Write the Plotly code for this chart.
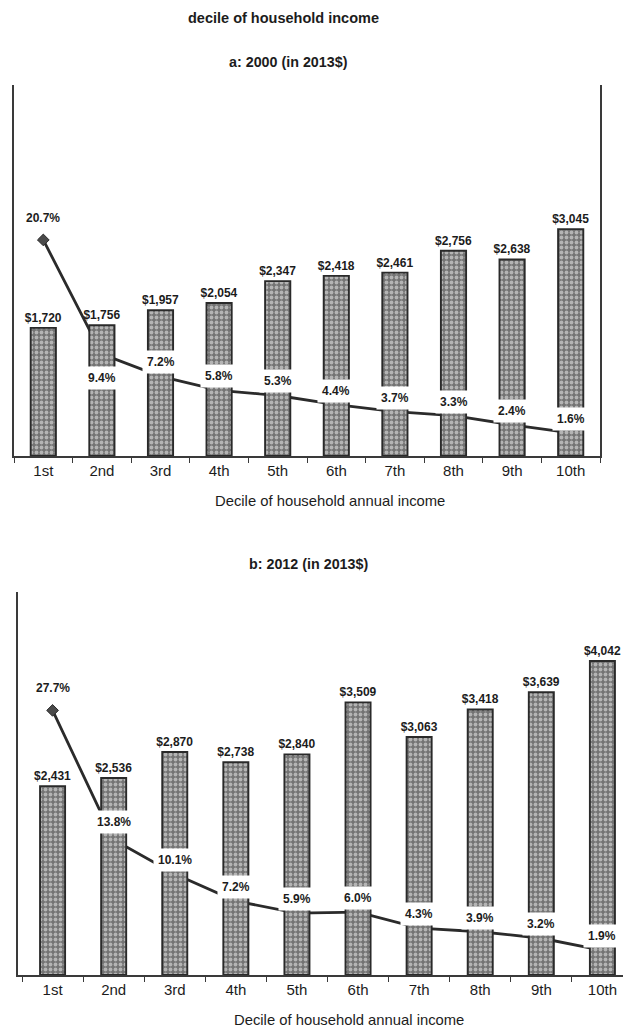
import plotly.graph_objects as go

# Deciles of household annual income
deciles = ["1st", "2nd", "3rd", "4th", "5th", "6th", "7th", "8th", "9th", "10th"]

# Panel a: 2000 (in 2013$)
spend_2000 = [1720, 1756, 1957, 2054, 2347, 2418, 2461, 2756, 2638, 3045]
share_2000 = [20.7, 9.4, 7.2, 5.8, 5.3, 4.4, 3.7, 3.3, 2.4, 1.6]

# Panel b: 2012 (in 2013$)
spend_2012 = [2431, 2536, 2870, 2738, 2840, 3509, 3063, 3418, 3639, 4042]
share_2012 = [27.7, 13.8, 10.1, 7.2, 5.9, 6.0, 4.3, 3.9, 3.2, 1.9]

W, H = 623, 1030
FONT = "Liberation Sans, Arial, sans-serif"
INK = "#1c1c1c"
AXIS = "#3a3a3a"

bar_marker = dict(
    color="#8a8a8a",
    line=dict(color="#2a2a2a", width=1.9),
    pattern=dict(shape=".", fgcolor="#b4b4b4", bgcolor="#737373",
                 size=5, solidity=0.45, fillmode="replace"),
)


def px_x(p):
    return p / W


def px_y(p):
    return 1 - p / H


fig = go.Figure()

# percentage line sits on the base axis so the bars cover it
for xa, ya, shares in (("x", "y", share_2000), ("x2", "y3", share_2012)):
    fig.add_trace(go.Scatter(
        x=deciles, y=shares, xaxis=xa, yaxis=ya, mode="lines+markers",
        line=dict(color="#2b2b2b", width=2.8),
        marker=dict(symbol="diamond", size=9, color="#4a4a4a",
                    line=dict(color="#2b2b2b", width=1)),
        hoverinfo="skip", showlegend=False,
    ))

for xa, ya, spend, bw in (("x", "y2", spend_2000, 0.43),
                          ("x2", "y4", spend_2012, 0.41)):
    fig.add_trace(go.Bar(
        x=deciles, y=spend, xaxis=xa, yaxis=ya, width=bw,
        marker=bar_marker, texttemplate="$%{y:,}", textposition="outside",
        constraintext="none",
        textfont=dict(family=FONT, size=12, color=INK, weight="bold"),
        cliponaxis=False, showlegend=False,
    ))

xcommon = dict(
    type="category", showgrid=False, zeroline=False, showline=True,
    linecolor=AXIS, linewidth=1.6, ticks="outside", tickson="boundaries",
    ticklen=5, tickcolor=AXIS, tickwidth=1.4,
    tickfont=dict(family=FONT, size=15, color=INK),
)
ycommon = dict(showgrid=False, zeroline=False, showticklabels=False, ticks="")

fig.update_layout(
    width=W, height=H, margin=dict(l=0, r=0, t=0, b=0),
    paper_bgcolor="white", plot_bgcolor="rgba(0,0,0,0)",
    font=dict(family=FONT, color=INK),
    xaxis=dict(xcommon, domain=[px_x(14), px_x(600)], range=[-0.5, 9.5],
               anchor="y"),
    yaxis=dict(ycommon, domain=[px_y(456), px_y(85)], range=[-0.69, 36.04],
               anchor="x", showline=True, linecolor=AXIS, linewidth=1.6),
    yaxis2=dict(ycommon, overlaying="y", anchor="x", side="right",
                range=[0, 4980], showline=True, linecolor=AXIS, linewidth=1.6),
    xaxis2=dict(xcommon, domain=[px_x(18), 1], range=[-0.566, 9.337],
                anchor="y3"),
    yaxis3=dict(ycommon, domain=[px_y(975), px_y(592)], range=[-0.75, 40.43],
                anchor="x2", showline=True, linecolor=AXIS, linewidth=1.6),
    yaxis4=dict(ycommon, overlaying="y3", anchor="x2", side="right",
                range=[0, 4930], showline=False),
)

annotations = []


def text_note(txt, x, y, size, bold=False):
    annotations.append(dict(
        text=f"<b>{txt}</b>" if bold else txt, xref="paper", yref="paper",
        x=px_x(x), y=px_y(y), xanchor="center", yanchor="middle",
        showarrow=False, font=dict(family=FONT, size=size, color=INK),
    ))


text_note("decile of household income", 283, 18, 14.5, bold=True)
text_note("a: 2000 (in 2013$)", 288, 62, 14.3, bold=True)
text_note("Decile of household annual income", 330, 501, 14.8)
text_note("b: 2012 (in 2013$)", 308, 564, 14.3, bold=True)
text_note("Decile of household annual income", 349, 1020, 14.8)

# share labels sit on a white box just above each point; a few are moved
label_shift = {
    "a": {0: 22, 1: -24},
    "b": {0: 22, 1: 18},
}
for key, xref, yref, shares in (("a", "x", "y", share_2000),
                                ("b", "x2", "y3", share_2012)):
    for i, (cat, val) in enumerate(zip(deciles, shares)):
        annotations.append(dict(
            text=f"<b>{val:.1f}%</b>", xref=xref, yref=yref, x=cat, y=val,
            xanchor="center", yanchor="middle",
            yshift=label_shift[key].get(i, 14), showarrow=False,
            bgcolor="white" if i > 0 else "rgba(0,0,0,0)", borderpad=4,
            font=dict(family=FONT, size=12, color=INK),
        ))

fig.update_layout(annotations=annotations)

fig.write_html("out.html")
